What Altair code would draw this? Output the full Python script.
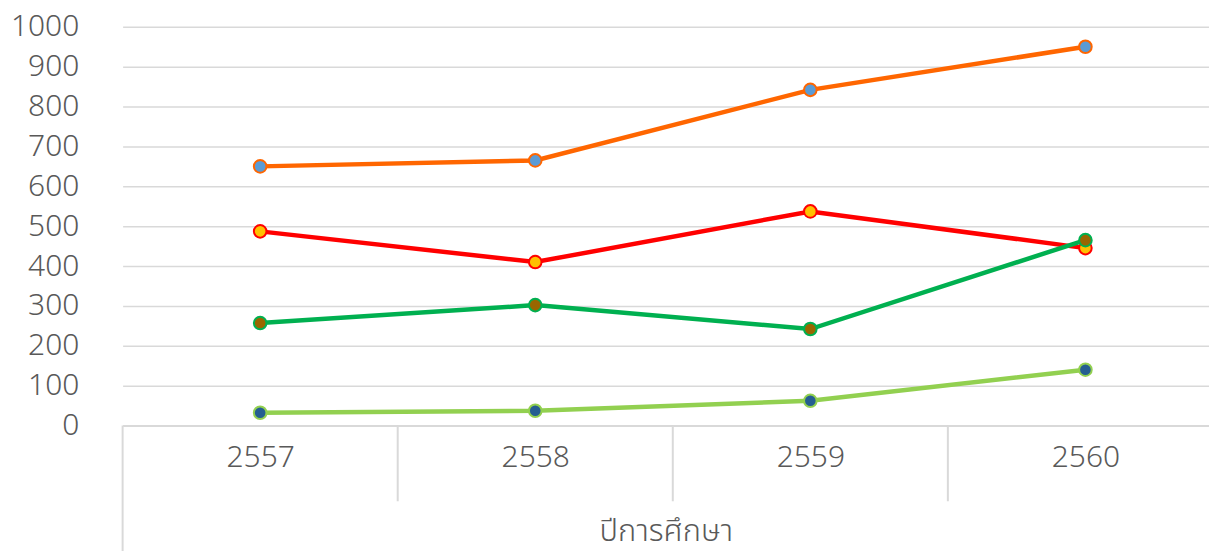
import altair as alt
import pandas as pd

years = [2557, 2558, 2559, 2560]
series_names = ["ชุดที่ 1", "ชุดที่ 2", "ชุดที่ 3", "ชุดที่ 4"]
series_1 = [650, 665, 842, 950]
series_2 = [487, 410, 537, 445]
series_3 = [257, 302, 242, 465]
series_4 = [32, 37, 62, 140]
line_colors = ["#FF6600", "#FF0000", "#00B050", "#92D050"]
fill_colors = ["#5B9BD5", "#FFC000", "#996600", "#255E91"]
y_ticks = list(range(0, 1001, 100))
x_title = "ปีการศึกษา"

rows = []
for name, vals in zip(series_names, [series_1, series_2, series_3, series_4]):
    for yr, v in zip(years, vals):
        rows.append({"year": yr, "value": v, "series": name})
df = pd.DataFrame(rows)

# category dividers (below the axis), first one longer
div_rows = []
for i, yr in enumerate(years):
    div_rows.append({"x": yr - 0.5, "y": 0, "y2": -330 if i == 0 else -190})
div_df = pd.DataFrame(div_rows)

FONT = "Noto Sans, Noto Sans Thai, Leelawadee UI, sans-serif"
X_DOMAIN = [2556.5, 2556.5 + 1090 / 276]

x_scale = alt.Scale(domain=X_DOMAIN, nice=False, zero=False)
y_scale = alt.Scale(domain=[0, 1000], nice=False)
col_line = alt.Scale(domain=series_names, range=line_colors)
col_fill = alt.Scale(domain=series_names, range=fill_colors)

x_axis = alt.Axis(values=years, format="d", title=x_title, grid=False,
                  ticks=False, domain=True, domainColor="#d9d9d9",
                  domainWidth=2, labelFontSize=30, labelColor="#595959",
                  labelFont=FONT, labelFontWeight=300, labelPadding=17,
                  titleFontSize=31, titleColor="#595959", titleFont=FONT,
                  titleFontWeight=300, titlePadding=44)
y_axis = alt.Axis(values=y_ticks, format="d", title=None, grid=True,
                  gridColor="#d9d9d9", gridWidth=1.5, domain=False,
                  ticks=False, labelFontSize=30, labelOverlap=False,
                  labelColor="#595959", labelFont=FONT, labelFontWeight=300,
                  labelPadding=44)

base = alt.Chart(df)

dividers = alt.Chart(div_df).mark_rule(color="#d9d9d9", strokeWidth=2).encode(
    x=alt.X("x:Q", scale=x_scale, axis=x_axis),
    y=alt.Y("y:Q", scale=y_scale, axis=y_axis),
    y2="y2:Q",
)

lines = base.mark_line(strokeWidth=4.5).encode(
    x=alt.X("year:Q", scale=x_scale, axis=x_axis),
    y=alt.Y("value:Q", scale=y_scale, axis=y_axis),
    color=alt.Color("series:N", scale=col_line, legend=None),
    detail="series:N",
)

points = base.mark_point(filled=True, size=160, strokeWidth=2, opacity=1).encode(
    x=alt.X("year:Q", scale=x_scale, axis=x_axis),
    y=alt.Y("value:Q", scale=y_scale, axis=y_axis),
    fill=alt.Fill("series:N", scale=col_fill, legend=None),
    stroke=alt.Stroke("series:N", scale=col_line, legend=None),
)

chart = alt.layer(dividers, lines, points).properties(
    width=1090,
    height=400,
    autosize=alt.AutoSizeParams(type="none"),
    padding={"left": 115, "top": 18, "right": 0, "bottom": 125},
).configure_view(stroke=None)

chart.save("out.html", embed_options={"renderer": "svg", "actions": False})
